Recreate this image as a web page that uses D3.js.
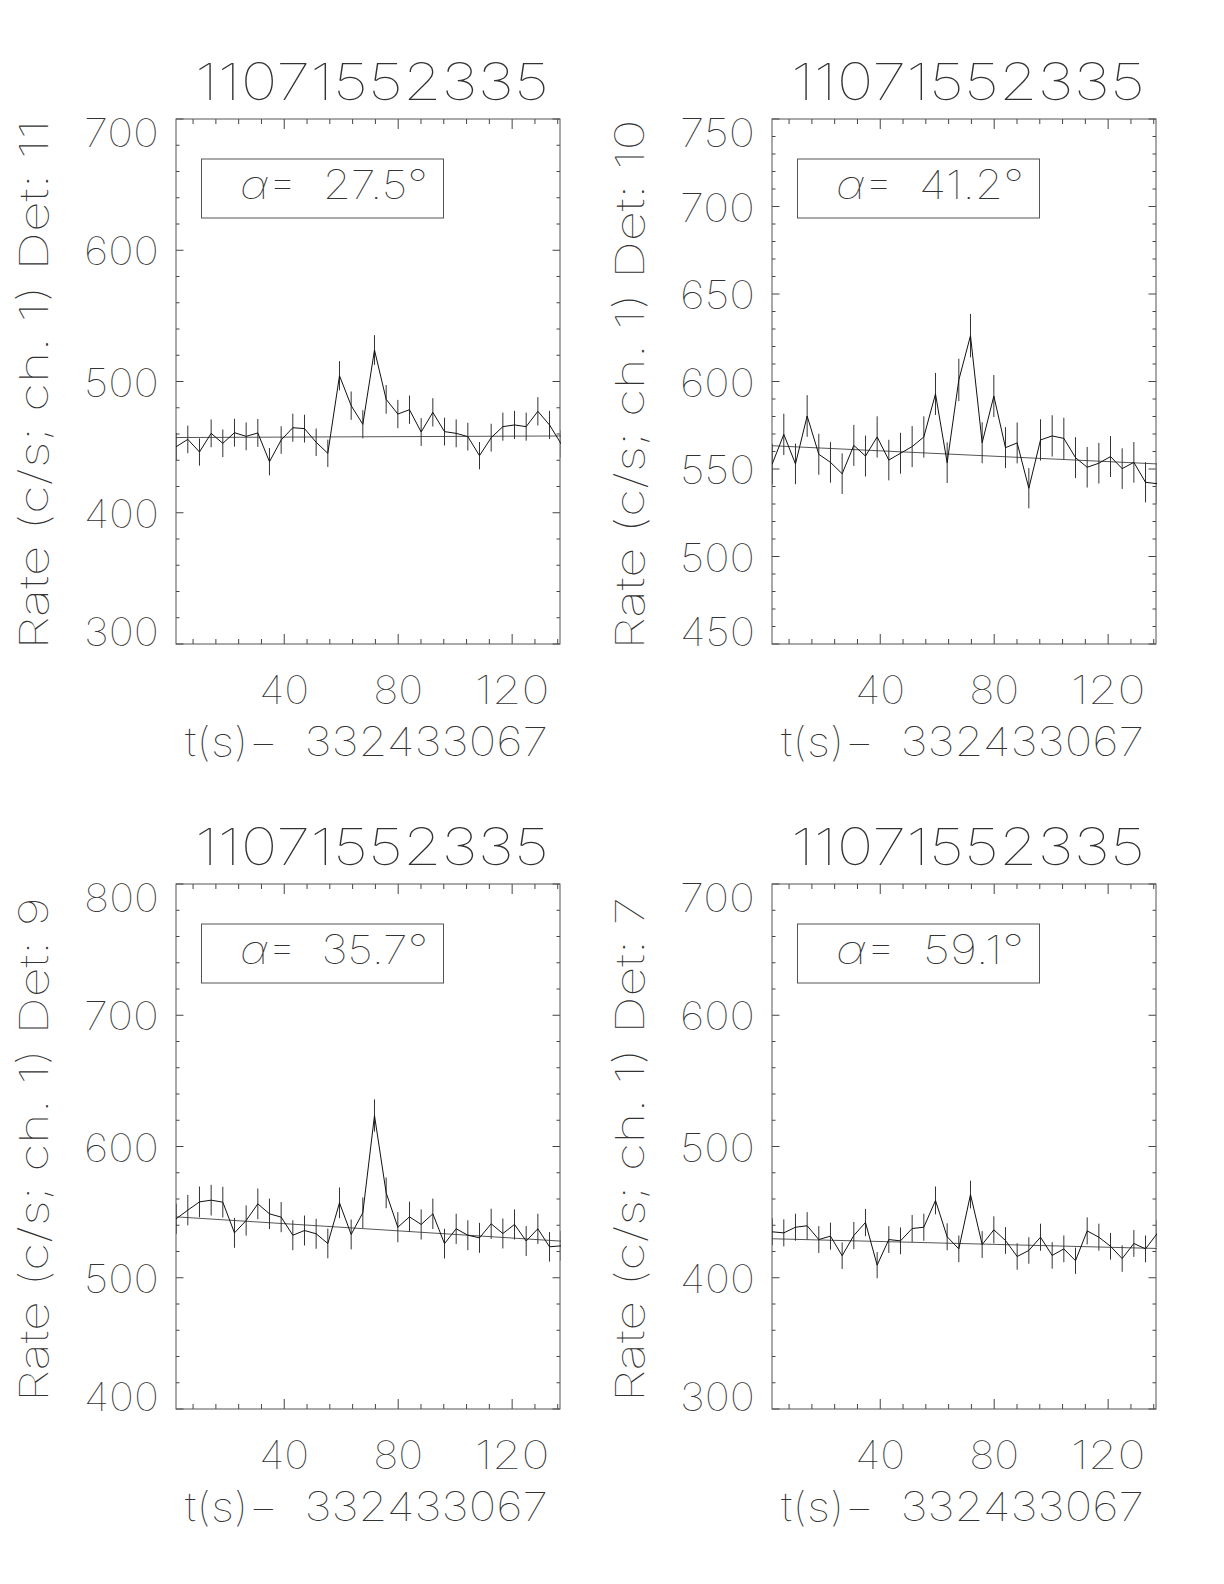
<!DOCTYPE html>
<html><head><meta charset="utf-8">
<script src="https://cdn.jsdelivr.net/npm/d3@7"></script>
<style>
html,body{margin:0;padding:0;background:#fff;}
text{font-family:"Inter","Roboto","Lato","DejaVu Sans",sans-serif;font-weight:100;fill:#333;}
</style></head>
<body><svg id="chart" width="1224" height="1584"></svg>
<script>
// ---- data ----
const times = [2.048, 6.144, 10.24, 14.336, 18.432, 22.528, 26.624, 30.72, 34.816, 38.912, 43.008, 47.104, 51.2, 55.296, 59.392, 63.488, 67.584, 71.68, 75.776, 79.872, 83.968, 88.064, 92.16, 96.256, 100.352, 104.448, 108.544, 112.64, 116.736, 120.832, 124.928, 129.024, 133.12, 137.216];

const rateDet11 = [450.3, 455.9, 446.3, 460.5, 452.9, 461, 458.2, 460.8, 438.9, 455.4, 464.8, 464.1, 453.7, 445.3, 504.4, 481.6, 467.4, 524, 486.4, 475.2, 478.5, 461.5, 476.5, 461.8, 460.5, 458, 443.5, 457.2, 465.6, 466.9, 465.6, 477.3, 466.9, 452.4];
const errDet11 = [10.5,10.5,10.4,10.6,10.5,10.6,10.6,10.6,10.4,10.5,10.7,10.6,10.5,10.4,11.1,10.8,10.7,11.3,10.9,10.8,10.8,10.6,10.8,10.6,10.6,10.6,10.4,10.6,10.7,10.7,10.7,10.8,10.7,10.5];
const fitDet11 = [457.3, 458.5];

const rateDet10 = [552.7, 569.8, 552.9, 580.3, 558.4, 553.8, 547.3, 563.5, 557.4, 568.3, 555.1, 559, 562.8, 568.3, 592.9, 553.6, 600.9, 626.2, 565, 591.7, 562.2, 564.9, 539, 566.6, 568.9, 567.5, 556.5, 551, 553.3, 557.1, 550.2, 553.8, 542.4, 541.6];
const errDet10 = [11.6,11.8,11.6,11.9,11.7,11.6,11.6,11.7,11.7,11.8,11.6,11.7,11.7,11.8,12.0,11.6,12.1,12.4,11.7,12.0,11.7,11.7,11.5,11.8,11.8,11.8,11.7,11.6,11.6,11.7,11.6,11.6,11.5,11.5];
const fitDet10 = [563.3, 552.9];

const rateDet9 = [544.9, 551.5, 557.8, 559.1, 557.6, 534.2, 543.6, 556.3, 548.7, 546.2, 532.4, 536, 533.5, 526.1, 557.1, 533, 549.5, 623.6, 564.7, 538.5, 546.4, 540.6, 548.7, 526, 537.3, 532.4, 530.4, 541.1, 533.7, 540.6, 528, 537.3, 523.6, 524.3];
const errDet9 = [11.5,11.6,11.7,11.7,11.7,11.4,11.5,11.7,11.6,11.5,11.4,11.4,11.4,11.3,11.7,11.4,11.6,12.3,11.7,11.5,11.6,11.5,11.6,11.3,11.5,11.4,11.4,11.5,11.4,11.5,11.4,11.5,11.3,11.3];
const fitDet9 = [546.4, 527.9];

const rateDet7 = [435, 434.2, 438.5, 439.6, 429.1, 431.7, 416.8, 432.2, 442.1, 409.6, 429.1, 428.1, 437.5, 438.5, 458.9, 431.2, 422, 463.4, 425.3, 436.5, 428.4, 416.2, 420.8, 430.9, 417, 422, 413, 435.7, 430.9, 424, 414.6, 426.1, 422, 433.7];
const errDet7 = [10.3,10.3,10.3,10.4,10.2,10.3,10.1,10.3,10.4,10.0,10.2,10.2,10.3,10.3,10.6,10.3,10.2,10.6,10.2,10.3,10.2,10.1,10.1,10.3,10.1,10.2,10.0,10.3,10.3,10.2,10.1,10.2,10.2,10.3];
const fitDet7 = [429.7, 422.3];

const titles = ["11071552335", "11071552335", "11071552335", "11071552335"];
const detectors = ["11", "10", "9", "7"];
const alphas = ["27.5", "41.2", "35.7", "59.1"];
const yDomains = [[300, 700], [450, 750], [400, 800], [300, 700]];
const yMajor = [[300,400,500,600,700],[450,500,550,600,650,700,750],[400,500,600,700,800],[300,400,500,600,700]];
const yMinorStep = [20, 10, 20, 20];
const xDomain = [2.0, 136.8];
const xMajor = [40, 80, 120];
const xMinorStep = 8;
const xTitle = "t(s)\u2212  332433067";

const rates = [rateDet11, rateDet10, rateDet9, rateDet7];
const errs = [errDet11, errDet10, errDet9, errDet7];
const fits = [fitDet11, fitDet10, fitDet9, fitDet7];

// ---- layout ----
const W = 384, H = 525;
const origins = [[176, 119], [772, 119], [176, 884], [772, 884]];

const svg = d3.select("#chart");
svg.append("rect").attr("width",1224).attr("height",1584).attr("fill","#fff");

origins.forEach((o, i) => {
  const [L, T] = o;
  const g = svg.append("g").attr("transform", `translate(${L},${T})`);
  const x = d3.scaleLinear().domain(xDomain).range([0, W]);
  const y = d3.scaleLinear().domain(yDomains[i]).range([H, 0]);

  const clipId = "clip" + i;
  g.append("clipPath").attr("id", clipId).append("rect")
    .attr("x", 0).attr("y", 0).attr("width", W + 1).attr("height", H);

  // ticks
  const xMinor = d3.range(8, 137, xMinorStep).filter(v => xMajor.indexOf(v) < 0 && v <= xDomain[1] + 0.5);
  const [y0, y1] = yDomains[i];
  const yMinor = d3.range(y0, y1 + 0.001, yMinorStep[i]).filter(v => yMajor[i].indexOf(v) < 0);
  const tk = g.append("g").attr("stroke", "#444").attr("stroke-width", 1);
  const xt = (v, len) => {
    const px = Math.min(x(v), W);
    tk.append("line").attr("x1", px).attr("x2", px).attr("y1", H).attr("y2", H - len);
    tk.append("line").attr("x1", px).attr("x2", px).attr("y1", 0).attr("y2", len);
  };
  xMajor.forEach(v => xt(v, 10));
  xMinor.forEach(v => xt(v, 5));
  const yt = (v, len) => {
    tk.append("line").attr("x1", 0).attr("x2", len).attr("y1", y(v)).attr("y2", y(v));
    tk.append("line").attr("x1", W).attr("x2", W - len).attr("y1", y(v)).attr("y2", y(v));
  };
  yMajor[i].forEach(v => yt(v, 7.5));
  yMinor.forEach(v => yt(v, 3.5));

  // frame
  g.append("rect").attr("x", 0).attr("y", 0).attr("width", W).attr("height", H)
    .attr("fill", "none").attr("stroke", "#555").attr("stroke-width", 1);

  // y tick labels
  yMajor[i].forEach((v, k) => {
    let by = y(v) + 15;
    if (k === yMajor[i].length - 1) by = 28;
    if (k === 0) by = H + 2;
    g.append("text").attr("x", -17).attr("y", by).attr("text-anchor", "end")
      .attr("font-size", 39).attr("textLength", String(v).length * 25)
      .attr("lengthAdjust", "spacingAndGlyphs").text(v);
  });
  // x tick labels
  xMajor.forEach(v => {
    g.append("text").attr("x", x(v)).attr("y", H + 60).attr("text-anchor", "middle")
      .attr("font-size", 39).attr("textLength", String(v).length * 25)
      .attr("lengthAdjust", "spacingAndGlyphs").text(v);
  });
  // x title
  g.append("text").attr("x", 9).attr("y", H + 112).attr("font-size", 40)
    .attr("textLength", 363).attr("lengthAdjust", "spacingAndGlyphs")
    .style("white-space", "pre").text(xTitle);
  // title
  g.append("text").attr("x", 19).attr("y", -19).attr("font-size", 51)
    .attr("textLength", 354).attr("lengthAdjust", "spacingAndGlyphs").text(titles[i]);
  // y title
  const ylab = "Rate (c/s; ch. 1) Det: " + detectors[i];
  g.append("text").attr("transform", `translate(-128,${H / 2 + 3}) rotate(-90)`)
    .attr("text-anchor", "middle").attr("font-size", 40)
    .attr("textLength", detectors[i].length > 1 ? 530 : 505).attr("lengthAdjust", "spacingAndGlyphs")
    .text(ylab);

  // alpha box
  g.append("rect").attr("x", 25.5).attr("y", 40).attr("width", 242).attr("height", 59)
    .attr("fill", "none").attr("stroke", "#555").attr("stroke-width", 1);
  const at = g.append("text").attr("x", 64).attr("y", 80).attr("font-size", 40)
    .style("white-space", "pre").attr("textLength", 188).attr("lengthAdjust", "spacingAndGlyphs");
  at.append("tspan").attr("font-style", "italic").text("\u03b1");
  at.append("tspan").text("=  " + alphas[i] + "\u00b0");

  // data
  const dg = g.append("g").attr("clip-path", `url(#${clipId})`);
  const pts = times.map((t, k) => ({ t: t, v: rates[i][k], e: errs[i][k] }));
  // fit line
  dg.append("line")
    .attr("x1", x(times[0])).attr("x2", x(times[times.length - 1]))
    .attr("y1", y(fits[i][0])).attr("y2", y(fits[i][1]))
    .attr("stroke", "#555").attr("stroke-width", 1);
  // error bars
  dg.selectAll("line.err").data(pts).enter().append("line").attr("class", "err")
    .attr("x1", d => x(d.t)).attr("x2", d => x(d.t))
    .attr("y1", d => y(d.v - d.e)).attr("y2", d => y(d.v + d.e))
    .attr("stroke", "#333").attr("stroke-width", 1);
  // rate line
  dg.append("path").datum(pts)
    .attr("d", d3.line().x(d => x(d.t)).y(d => y(d.v)))
    .attr("fill", "none").attr("stroke", "#111").attr("stroke-width", 1);
});
</script></body></html>
